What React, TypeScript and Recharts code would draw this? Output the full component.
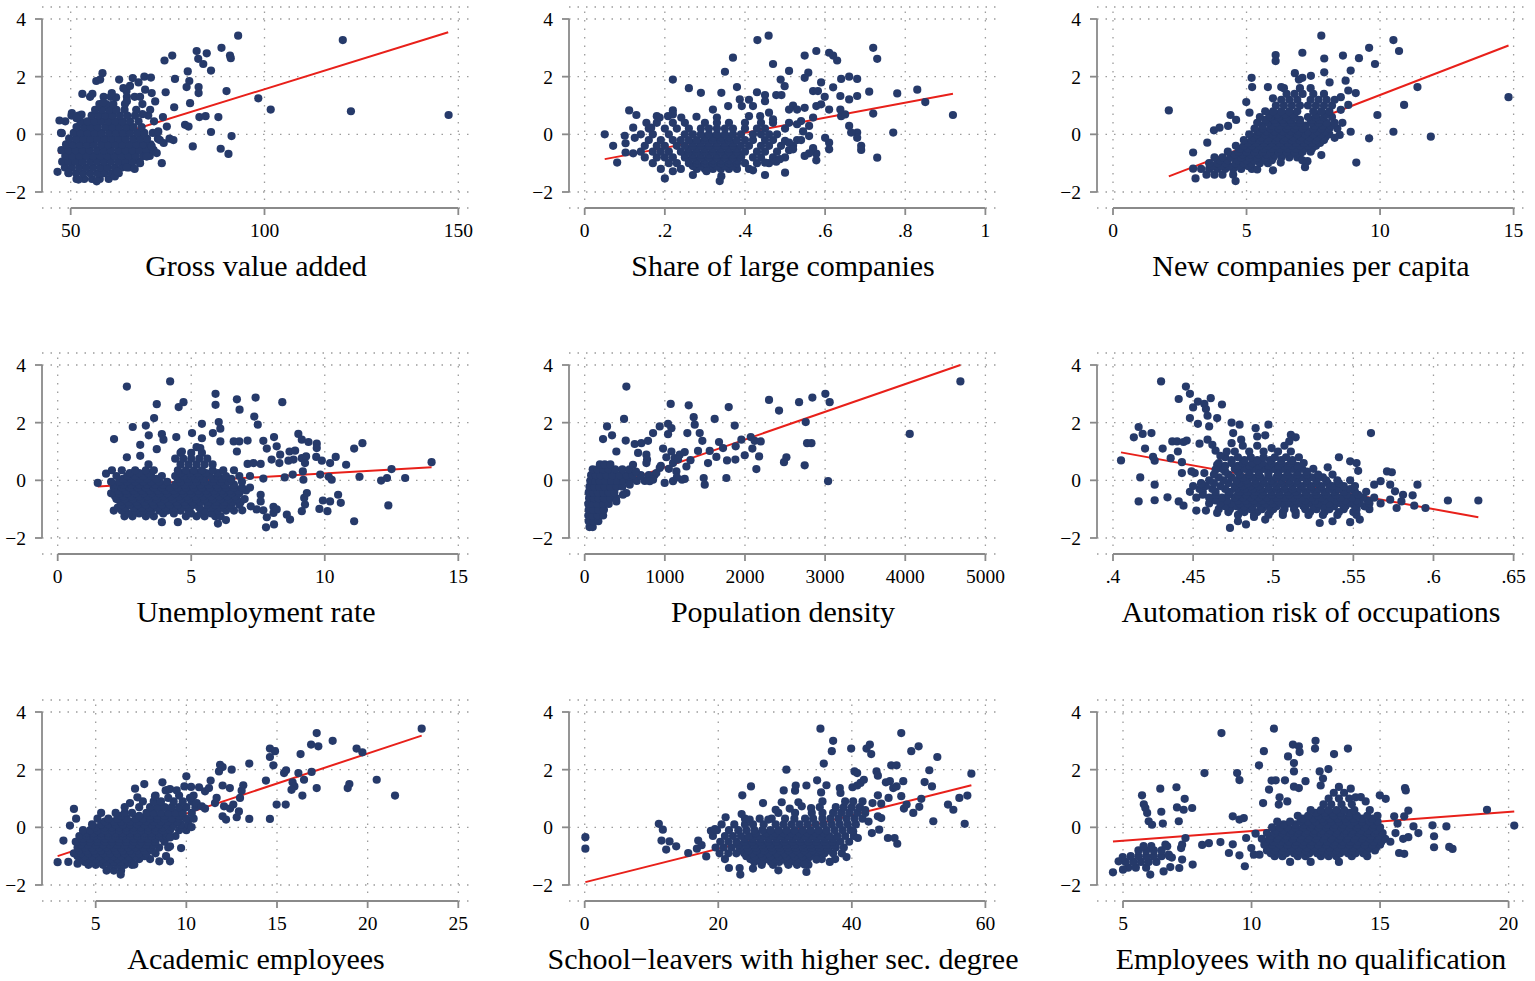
import { ScatterChart, Scatter, XAxis, YAxis, CartesianGrid, ReferenceLine } from "recharts";

type Pt = [number, number];
type Row = [number, number[]];

// ---- Gross value added ----
const gvaTicks = [50, 100, 150];
const gvaFit: Pt[] = [[46.8, -0.65], [147.4, 3.54]];
const gvaOuter: Pt[] = [
  [93.2, 3.42], [88.9, 3.0], [82.5, 2.89], [85.1, 2.81], [82.9, 2.62], [84.2, 2.44], [91.1, 2.73], [91.3, 2.64],
  [76.2, 2.73], [74.2, 2.56], [86.2, 2.21], [80.2, 2.18], [76.9, 1.92], [80.6, 1.85], [79.9, 1.64], [83.0, 1.64],
  [83.0, 1.43], [90.2, 1.5], [74.5, 1.46], [80.8, 1.08], [76.7, 0.94], [83.2, 0.6], [84.8, 0.63], [88.1, 0.6],
  [79.5, 0.33], [80.4, 0.27], [74.8, 0.27], [86.2, 0.08], [91.5, -0.06], [81.5, -0.42], [88.7, -0.5], [90.7, -0.68],
  [73.5, -1.0], [120.2, 3.27], [98.4, 1.25], [101.6, 0.86], [122.3, 0.8], [147.5, 0.67],
  [58.2, 2.12], [57.6, 1.9], [56.6, 1.85], [53.0, 1.4], [47.1, 0.48], [47.7, 0.04], [46.6, -1.3], [69.0, 2.0],
  [70.7, 1.97], [67.5, 1.8], [69.2, 1.55], [70.9, 1.43], [71.8, 1.14], [70.5, 0.85], [67.9, 1.3], [64.4, 1.5],
  [63.6, 1.6], [65.3, 1.68], [61.7, 1.28], [60.6, 1.43], [58.4, 1.1], [55.6, 1.4], [52.8, 0.68], [50.3, 0.74],
  [51.5, 0.56], [72.6, 0.1], [73.0, -0.2], [72.2, -0.65], [70.9, -0.42], [69.6, -0.77], [67.9, -1.0], [61.4, -1.46],
  [56.7, -1.63], [52.0, -1.57], [49.4, -1.34], [74.0, -0.3], [75.5, -0.15], [76.5, -0.2], [71.5, 0.45], [73.8, 0.6],
  [66.0, 1.95], [62.5, 1.9], [64.5, 1.15], [68.5, 0.7], [62.0, -1.3], [64.5, -1.15], [66.5, -1.2],
];
const gvaCore: Row[] = [
  [-1.55, [51.5, 53.5, 55.5, 57.5, 59.8]],
  [-1.35, [49.5, 51.4, 53.2, 55.0, 56.9, 58.7, 60.6, 62.4]],
  [-1.15, [48.5, 50.3, 52.2, 54.0, 55.8, 57.7, 59.5, 61.4, 63.2, 65.1]],
  [-0.95, [47.8, 49.5, 51.3, 53.1, 55.0, 56.8, 58.6, 60.4, 62.3, 64.1, 66.0, 67.8]],
  [-0.75, [48.6, 50.4, 52.2, 54.0, 55.9, 57.7, 59.5, 61.3, 63.2, 65.0, 66.8, 68.7, 70.4]],
  [-0.55, [47.6, 49.5, 51.3, 53.1, 54.9, 56.8, 58.6, 60.4, 62.3, 64.1, 65.9, 67.7, 69.6, 71.4]],
  [-0.35, [48.8, 50.6, 52.4, 54.2, 56.0, 57.9, 59.7, 61.5, 63.3, 65.2, 67.0, 68.8, 70.6]],
  [-0.15, [49.6, 51.5, 53.3, 55.1, 56.9, 58.8, 60.6, 62.4, 64.2, 66.1, 67.9, 69.7, 72.5]],
  [0.05, [47.5, 50.8, 52.6, 54.4, 56.2, 58.0, 59.9, 61.7, 63.5, 65.3, 67.2, 69.0, 71.2]],
  [0.25, [51.5, 53.4, 55.2, 57.0, 58.9, 60.7, 62.5, 64.4, 66.2, 68.3]],
  [0.45, [48.6, 52.5, 54.3, 56.1, 57.9, 59.8, 61.6, 63.4, 65.3, 67.5]],
  [0.65, [50.2, 52.0, 55.4, 57.2, 59.0, 60.8, 62.7, 64.6, 66.6, 70.0]],
  [0.85, [56.3, 58.1, 60.0, 61.8, 63.9, 66.9]],
  [1.05, [57.4, 59.2, 61.0, 64.0, 68.5]],
  [1.3, [55.0, 58.5, 60.3, 64.5, 66.5]],
];

// ---- Share of large companies ----
const shareTicks = [0, 0.2, 0.4, 0.6, 0.8, 1];
const shareFit: Pt[] = [[0.05, -0.86], [0.919, 1.41]];
const shareOuter: Pt[] = [
  [0.05, 0.0], [0.071, -0.4], [0.081, -0.98], [0.111, 0.83], [0.129, 0.67], [0.1, -0.05], [0.102, -0.31], [0.102, -0.63],
  [0.121, -0.66], [0.121, 0.23], [0.22, 1.9], [0.22, 0.83], [0.26, 1.6], [0.29, 1.44], [0.35, 2.17], [0.37, 2.66],
  [0.38, 1.64], [0.341, 1.44], [0.431, 3.27], [0.459, 3.42], [0.47, 2.44], [0.43, 1.46], [0.45, 1.36], [0.45, 1.15],
  [0.478, 1.36], [0.491, 1.36], [0.489, 1.9], [0.499, 1.67], [0.51, 2.2], [0.549, 2.73], [0.578, 2.89], [0.558, 2.14],
  [0.549, 1.96], [0.61, 2.83], [0.62, 2.73], [0.63, 2.56], [0.59, 1.8], [0.57, 1.5], [0.582, 1.5], [0.62, 1.63],
  [0.64, 1.92], [0.66, 2.0], [0.68, 1.92], [0.599, 1.3], [0.638, 1.33], [0.66, 1.21], [0.68, 1.33], [0.71, 1.48],
  [0.72, 3.0], [0.73, 2.62], [0.78, 1.42], [0.83, 1.55], [0.85, 1.12], [0.919, 0.67], [0.72, 0.72], [0.77, 0.06],
  [0.73, -0.81], [0.69, -0.4], [0.69, -0.54], [0.68, 0.06], [0.68, -0.12], [0.66, 0.29], [0.665, 0.06], [0.64, 0.63],
  [0.65, 0.69], [0.638, 0.86], [0.61, -0.29], [0.61, -0.52], [0.6, -0.12], [0.578, -0.9], [0.578, -0.67], [0.57, -0.48],
  [0.56, -0.66], [0.549, -0.75], [0.56, -0.06], [0.56, 0.29], [0.549, 0.92], [0.54, 0.46], [0.57, 0.58], [0.578, 0.98],
  [0.59, 1.04], [0.61, 0.86], [0.52, 1.0], [0.53, 0.86], [0.51, 0.86], [0.51, 0.4], [0.53, 0.35], [0.5, -0.23],
  [0.51, -0.29], [0.5, -1.33], [0.51, -0.55], [0.52, -0.52], [0.478, -0.95], [0.487, -0.86], [0.45, -1.41], [0.42, -1.25],
  [0.45, -0.98], [0.54, -0.2], [0.545, 0.1], [0.47, 0.52], [0.46, 0.75], [0.438, 0.63], [0.41, 0.63], [0.42, 0.98],
  [0.41, 1.2], [0.387, 1.21], [0.392, 0.98], [0.358, 0.98], [0.32, 0.86], [0.33, 0.58], [0.279, 0.61], [0.241, 0.58],
  [0.22, 0.69], [0.208, 0.63], [0.18, 0.63], [0.187, 0.58], [0.154, 0.4], [0.166, 0.23], [0.125, -0.12], [0.337, -1.62],
  [0.341, -1.45], [0.2, -1.53], [0.22, -1.28], [0.27, -1.41], [0.304, -1.28],
];
const shareCore: Row[] = [
  [-1.2, [0.19, 0.24, 0.28, 0.3, 0.32, 0.34, 0.36, 0.38, 0.41]],
  [-1.1, [0.27, 0.29, 0.31, 0.33, 0.35, 0.37]],
  [-1.0, [0.17, 0.21, 0.23, 0.26, 0.28, 0.3, 0.32, 0.34, 0.36, 0.38, 0.4, 0.43, 0.46]],
  [-0.9, [0.26, 0.28, 0.3, 0.32, 0.34, 0.36, 0.38]],
  [-0.8, [0.15, 0.18, 0.2, 0.22, 0.25, 0.27, 0.29, 0.31, 0.33, 0.35, 0.37, 0.39, 0.42, 0.44, 0.47, 0.5]],
  [-0.7, [0.25, 0.27, 0.29, 0.31, 0.33, 0.35, 0.37, 0.39]],
  [-0.6, [0.14, 0.17, 0.19, 0.21, 0.24, 0.26, 0.28, 0.3, 0.32, 0.34, 0.36, 0.38, 0.4, 0.43, 0.45, 0.48]],
  [-0.5, [0.26, 0.28, 0.3, 0.32, 0.34, 0.36, 0.38]],
  [-0.4, [0.15, 0.18, 0.2, 0.23, 0.25, 0.27, 0.29, 0.31, 0.33, 0.35, 0.37, 0.39, 0.41, 0.44, 0.46, 0.49, 0.52]],
  [-0.3, [0.27, 0.29, 0.31, 0.33, 0.35, 0.37]],
  [-0.2, [0.16, 0.19, 0.22, 0.24, 0.26, 0.28, 0.3, 0.32, 0.34, 0.36, 0.38, 0.4, 0.42, 0.45, 0.47, 0.53]],
  [-0.1, [0.3, 0.32, 0.34, 0.36]],
  [0.0, [0.14, 0.17, 0.21, 0.25, 0.27, 0.29, 0.31, 0.33, 0.35, 0.37, 0.39, 0.42, 0.44, 0.46, 0.48]],
  [0.2, [0.16, 0.2, 0.23, 0.26, 0.29, 0.31, 0.33, 0.35, 0.37, 0.4, 0.43, 0.45, 0.5]],
  [0.4, [0.18, 0.22, 0.25, 0.3, 0.33, 0.36, 0.4, 0.44, 0.47]],
];

// ---- New companies per capita ----
const newCoTicks = [0, 5, 10, 15];
const newCoFit: Pt[] = [[2.09, -1.46], [14.81, 3.08]];
const newCoOuter: Pt[] = [
  [2.09, 0.83], [3.0, -0.63], [3.0, -1.19], [3.09, -1.53], [3.53, -0.29], [3.78, 0.14], [3.99, 0.23], [4.31, 0.29],
  [4.4, 0.67], [4.61, 0.5], [4.59, -1.62], [4.99, 1.12], [5.19, 1.96], [5.21, 1.64], [5.11, 0.75], [5.8, 1.64],
  [6.09, 2.75], [6.09, 2.54], [5.99, 1.25], [6.3, 1.64], [7.09, 2.83], [6.81, 2.12], [6.96, 1.9], [7.09, 1.96],
  [7.41, 2.03], [7.8, 3.42], [7.91, 2.63], [7.91, 2.15], [8.11, 1.8], [8.61, 2.73], [8.9, 2.21], [8.71, 1.86],
  [9.21, 2.64], [9.59, 3.0], [9.81, 2.44], [8.81, 1.52], [9.09, 1.43], [8.53, 1.29], [8.81, 1.02], [8.53, 0.85],
  [8.59, 0.4], [8.9, 0.09], [8.49, -0.02], [8.3, -0.12], [9.11, -0.98], [9.59, -0.14], [9.9, 0.67], [10.5, 0.09],
  [10.5, 3.27], [10.71, 2.89], [10.9, 1.02], [11.4, 1.64], [11.9, -0.08], [14.81, 1.29], [7.8, -0.72], [7.09, -0.9],
  [7.28, -0.93], [7.19, -1.14], [5.99, -1.25], [5.4, -1.22], [6.28, -0.98],
];
const newCoCore: Row[] = [
  [-1.4, [3.5, 3.8, 4.1, 4.5]],
  [-1.2, [3.3, 3.6, 3.9, 4.2, 4.5, 4.8, 5.2]],
  [-1.1, [3.75, 4.05, 4.35, 4.7, 5.05]],
  [-1.0, [3.6, 3.9, 4.2, 4.6, 4.9, 5.2, 5.5, 5.8]],
  [-0.9, [4.0, 4.3, 4.65, 5.0, 5.3, 5.6, 5.95]],
  [-0.8, [3.8, 4.1, 4.4, 4.8, 5.1, 5.4, 5.7, 6.0, 6.3, 6.6, 6.9]],
  [-0.7, [4.55, 4.85, 5.15, 5.45, 5.75, 6.05, 6.35, 6.65, 7.0]],
  [-0.6, [4.3, 4.7, 5.0, 5.3, 5.6, 5.9, 6.2, 6.5, 6.8, 7.1, 7.4]],
  [-0.5, [4.75, 5.05, 5.35, 5.65, 5.95, 6.25, 6.55, 6.85, 7.15, 7.45]],
  [-0.4, [4.6, 4.9, 5.2, 5.5, 5.8, 6.1, 6.4, 6.7, 7.0, 7.3, 7.6]],
  [-0.3, [5.05, 5.35, 5.65, 5.95, 6.25, 6.55, 6.85, 7.15, 7.45, 7.75]],
  [-0.2, [4.9, 5.2, 5.5, 5.8, 6.1, 6.4, 6.7, 7.0, 7.3, 7.6, 7.9]],
  [-0.1, [5.25, 5.55, 5.85, 6.15, 6.45, 6.75, 7.05, 7.35, 7.65, 7.95]],
  [0.0, [5.1, 5.4, 5.7, 6.0, 6.3, 6.6, 6.9, 7.2, 7.5, 7.8, 8.1]],
  [0.1, [5.45, 5.75, 6.05, 6.35, 6.65, 6.95, 7.3, 7.65, 7.95]],
  [0.2, [5.3, 5.6, 5.9, 6.2, 6.5, 6.8, 7.1, 7.5, 7.8, 8.1, 8.4]],
  [0.3, [5.6, 5.95, 6.25, 6.55, 6.85, 7.2, 7.55, 7.85, 8.15]],
  [0.4, [5.4, 5.8, 6.1, 6.4, 6.7, 7.0, 7.4, 7.7, 8.0, 8.3]],
  [0.5, [5.7, 6.05, 6.35, 6.65, 7.0, 7.45, 7.75]],
  [0.6, [5.5, 5.9, 6.2, 6.5, 6.8, 7.3, 7.6, 7.9, 8.2]],
  [0.7, [5.85, 6.15, 6.45, 6.75, 7.6, 7.95]],
  [0.8, [5.7, 6.0, 6.3, 6.6, 6.9, 7.5, 7.8, 8.1]],
  [1.0, [6.1, 6.4, 6.7, 7.0, 7.3, 7.6, 7.9, 8.2]],
  [1.2, [6.3, 6.6, 6.9, 7.4, 7.7, 8.0, 8.3]],
  [1.4, [6.5, 6.8, 7.1, 7.5, 7.9]],
  [1.6, [6.4, 7.0, 7.4]],
];

// ---- Unemployment rate ----
const unempTicks = [0, 5, 10, 15];
const unempFit: Pt[] = [[1.5, -0.21], [14.0, 0.45]];
const unempOuter: Pt[] = [
  [1.5, -0.09], [1.81, 0.23], [2.03, 0.35], [2.11, 1.43], [2.59, 3.25], [2.81, 1.85], [2.59, 0.8], [3.09, 1.23],
  [3.09, 0.85], [3.3, 1.9], [3.41, 1.56], [3.61, 2.16], [3.71, 2.64], [3.71, 1.08], [3.9, 1.6], [3.96, 1.41],
  [4.21, 3.43], [4.53, 2.54], [4.71, 2.71], [4.44, 1.5], [4.65, 1.0], [5.03, 1.64], [5.4, 1.96], [5.4, 1.46],
  [5.34, 1.12], [5.91, 3.0], [5.91, 2.62], [5.81, 1.64], [6.03, 2.02], [6.09, 1.79], [6.09, 1.35], [6.71, 2.81],
  [6.81, 2.45], [6.71, 1.0], [6.59, 1.35], [6.8, 1.35], [7.11, 1.38], [7.41, 2.87], [7.36, 2.21], [7.49, 1.93],
  [7.11, 0.57], [7.33, 0.6], [7.6, 0.57], [7.7, 1.37], [7.83, 1.1], [8.1, 1.5], [8.2, 1.18], [8.33, 0.89],
  [8.41, 2.71], [8.01, 0.72], [8.3, 0.6], [8.68, 1.0], [8.89, 1.03], [8.64, 0.68], [8.83, 0.72], [9.01, 1.61],
  [9.14, 1.41], [9.39, 1.33], [9.7, 1.27], [9.7, 1.12], [9.14, 0.77], [9.3, 0.83], [9.68, 0.81], [9.89, 0.68],
  [9.26, 0.6], [9.18, 0.31], [9.2, 0.02], [9.83, 0.2], [10.2, 0.6], [10.41, 0.81], [10.8, 0.54], [10.15, 0.12],
  [10.26, 0.02], [11.1, 1.1], [11.41, 1.29], [11.3, 0.12], [12.11, -0.01], [12.33, 0.08], [12.5, 0.39], [13.01, 0.08],
  [14.0, 0.63], [12.38, -0.87], [11.1, -1.42], [10.5, -0.5], [10.6, -0.78], [10.2, -0.73], [9.93, -0.7], [10.1, -1.07],
  [9.8, -0.99], [9.26, -0.84], [9.23, -0.61], [9.33, -0.44], [9.14, -1.07], [8.7, -1.36], [8.58, -1.19], [8.08, -0.92],
  [8.08, -1.13], [8.2, -1.01], [7.7, -1.04], [7.8, -1.63], [8.1, -1.53], [7.83, -1.28], [7.6, -0.5], [7.6, -0.73],
  [7.45, -1.01], [7.23, -0.9], [6.91, -1.04], [7.7, 0.06], [8.5, 0.1], [8.8, 0.2], [3.9, -1.45], [4.5, -1.45],
  [6.0, -1.5], [6.3, -1.38],
];
const unempCore: Row[] = [
  [-1.25, [2.5, 2.8, 3.3, 3.6, 4.8, 5.2, 5.5, 5.9, 6.1]],
  [-1.15, [2.65, 3.05, 3.45, 3.95, 4.35, 5.0, 5.35, 5.75]],
  [-1.05, [2.1, 2.4, 2.9, 3.2, 3.5, 3.8, 4.1, 4.6, 4.9, 5.5, 6.0, 6.3, 6.6]],
  [-0.95, [2.25, 2.55, 2.85, 3.15, 3.45, 3.75, 4.05, 4.35, 4.65, 4.95, 5.3, 5.75, 6.1, 6.45]],
  [-0.85, [2.4, 2.7, 3.0, 3.3, 3.6, 3.9, 4.2, 4.5, 4.8, 5.1, 5.6, 5.9, 6.2, 6.5, 6.8]],
  [-0.75, [2.35, 2.65, 2.95, 3.25, 3.55, 3.85, 4.15, 4.45, 4.75, 5.05, 5.35, 5.65, 5.95, 6.25, 6.55, 6.85]],
  [-0.65, [2.2, 2.5, 2.8, 3.1, 3.4, 3.7, 4.0, 4.3, 4.6, 4.9, 5.2, 5.5, 5.8, 6.1, 6.4, 6.7, 7.0]],
  [-0.55, [2.15, 2.45, 2.75, 3.05, 3.35, 3.65, 3.95, 4.25, 4.55, 4.85, 5.15, 5.45, 5.75, 6.05, 6.35, 6.65]],
  [-0.45, [2.0, 2.3, 2.6, 2.9, 3.2, 3.5, 3.8, 4.1, 4.4, 4.7, 5.0, 5.3, 5.6, 5.9, 6.2, 6.5, 6.8]],
  [-0.35, [2.25, 2.55, 2.85, 3.15, 3.45, 3.75, 4.05, 4.35, 4.65, 4.95, 5.25, 5.55, 5.85, 6.15, 6.45, 6.75, 7.05]],
  [-0.25, [2.1, 2.4, 2.7, 3.0, 3.3, 3.6, 3.9, 4.2, 4.5, 4.8, 5.1, 5.4, 5.7, 6.0, 6.3, 6.6, 6.9, 7.2]],
  [-0.15, [2.15, 2.45, 2.75, 3.05, 3.35, 3.65, 3.95, 4.4, 4.75, 5.05, 5.35, 5.65, 5.95, 6.25, 6.6]],
  [-0.05, [2.0, 2.3, 2.6, 2.9, 3.2, 3.5, 3.8, 4.1, 4.6, 4.9, 5.2, 5.5, 5.8, 6.1, 6.4, 6.9]],
  [0.05, [2.45, 2.75, 3.05, 3.35, 3.7, 4.5, 4.85, 5.15, 5.45, 5.85, 6.15, 6.5]],
  [0.15, [2.2, 2.6, 2.9, 3.2, 3.5, 3.9, 4.4, 4.7, 5.0, 5.3, 5.7, 6.0, 6.3, 6.8, 7.2]],
  [0.25, [2.7, 3.05, 3.4, 4.6, 4.95, 5.25, 5.55, 6.0]],
  [0.35, [2.4, 2.9, 3.3, 3.6, 4.5, 4.8, 5.1, 5.4, 5.8, 6.2, 6.6]],
  [0.55, [3.4, 4.6, 4.9, 5.2, 5.5, 5.8]],
  [0.75, [4.4, 4.7, 5.0, 5.3, 5.6]],
  [0.95, [4.6, 5.0, 5.4]],
  [1.15, [5.2]],
];

// ---- Population density ----
const densityTicks = [0, 1000, 2000, 3000, 4000, 5000];
const densityFit: Pt[] = [[40, -0.47], [4688, 4.0]];
const densityOuter: Pt[] = [
  [520, 3.25], [491, 2.13], [279, 1.87], [229, 1.43], [341, 1.56], [512, 1.38], [395, 1.0], [624, 1.26],
  [707, 1.29], [790, 1.37], [666, 0.95], [770, 0.89], [853, 1.64], [778, 0.72], [770, 0.6], [936, 1.87],
  [1040, 1.96], [1040, 1.6], [1073, 2.65], [1082, 1.81], [978, 1.1], [1019, 0.8], [1082, 1.0], [1123, 0.77],
  [936, 0.43], [998, -0.09], [1102, -0.03], [1144, 0.31], [1102, 0.6], [1186, 0.89], [1248, 0.98], [1165, 0.72],
  [1281, 1.64], [1298, 2.6], [1215, 0.02], [1248, 0.05], [1269, 0.48], [1360, 2.19], [1373, 1.93], [1435, 1.64],
  [1468, 1.37], [1414, 1.02], [1485, 0.08], [1498, -0.15], [1539, 0.6], [1560, 1.02], [1622, 2.13], [1676, 1.33],
  [1643, 0.81], [1726, 1.12], [1768, 0.08], [1797, 2.54], [1776, 0.69], [1872, 1.9], [1880, 0.72], [1884, 1.18],
  [1955, 1.41], [1997, 0.87], [2072, 1.5], [2121, 1.37], [2092, 1.1], [2196, 1.35], [2176, 0.83], [2142, 0.39],
  [2300, 2.79], [2425, 2.42], [2487, 0.63], [2517, 0.8], [2675, 2.71], [2745, 0.52], [2758, 2.02], [2775, 1.29],
  [2829, 1.29], [2841, 2.87], [3003, 3.0], [3057, 2.71], [3037, -0.03], [4056, 1.61], [4688, 3.43],
  [894, 0.25], [853, 0.02], [811, -0.03], [603, 0.54], [562, -0.15], [520, -0.44], [478, -0.5], [395, -0.73],
  [700, 0.15], [640, 0.3], [950, 0.5], [1050, 0.4], [1150, 0.1], [1320, 0.7],
];
const densityCore: Row[] = [
  [-1.62, [60, 100]],
  [-1.42, [50, 110, 170]],
  [-1.22, [45, 95, 160, 230]],
  [-1.02, [50, 110, 170, 240]],
  [-0.82, [45, 100, 160, 230, 300]],
  [-0.62, [55, 115, 175, 240, 320, 390]],
  [-0.42, [50, 105, 165, 230, 300, 370]],
  [-0.22, [60, 120, 185, 250, 320, 400, 470]],
  [-0.02, [70, 130, 190, 260, 330, 410, 480, 560, 650, 750]],
  [0.18, [80, 140, 200, 270, 350, 430, 520, 600, 700, 800, 870]],
  [0.38, [100, 160, 230, 300, 380, 470, 560]],
  [0.55, [190, 250, 320]],
];

// ---- Automation risk of occupations ----
const autoTicks = [0.4, 0.45, 0.5, 0.55, 0.6, 0.65];
const autoFit: Pt[] = [[0.405, 0.97], [0.628, -1.28]];
const autoOuter: Pt[] = [
  [0.405, 0.69], [0.413, 1.49], [0.416, 1.85], [0.4185, 1.61], [0.424, 1.64], [0.42, 1.1], [0.417, 0.1], [0.416, -0.73],
  [0.425, 0.81], [0.426, 0.68], [0.426, -0.15], [0.426, -0.69], [0.43, 3.43], [0.431, 1.1], [0.434, -0.59], [0.436, 0.77],
  [0.437, 1.35], [0.44, 1.35], [0.441, 2.82], [0.4405, 1.0], [0.443, 0.63], [0.443, 0.25], [0.441, -0.73], [0.444, -0.88],
  [0.4455, 3.25], [0.444, 1.33], [0.446, 1.38], [0.448, 3.0], [0.448, 2.16], [0.45, 2.53], [0.453, 2.73], [0.453, 1.96],
  [0.454, 1.27], [0.455, -0.13], [0.457, 2.65], [0.458, 2.47], [0.459, 2.24], [0.461, 2.85], [0.46, 1.87], [0.465, 2.16],
  [0.468, 2.63], [0.459, 1.41], [0.462, 1.23], [0.464, 1.03], [0.467, 0.85], [0.465, 0.54], [0.464, 0.37], [0.457, 0.25],
  [0.451, 0.25], [0.449, 0.31], [0.452, -1.05], [0.458, -1.05], [0.465, -1.13], [0.474, 2.0], [0.479, 1.93], [0.475, 1.64],
  [0.48, 1.41], [0.474, 1.29], [0.471, 1.0], [0.473, -1.65], [0.478, -1.42], [0.483, -1.53], [0.489, 1.81], [0.49, 1.52],
  [0.497, 1.93], [0.495, 1.56], [0.495, -1.36], [0.488, -1.27], [0.511, 1.58], [0.514, 1.49], [0.51, 1.35], [0.499, 1.12],
  [0.541, 0.8], [0.534, 0.45], [0.548, 0.66], [0.552, 0.6], [0.553, 0.33], [0.561, 1.64], [0.529, -1.48], [0.537, -1.42],
  [0.548, -1.45], [0.554, -1.36], [0.563, -0.15], [0.567, -0.03], [0.571, 0.31], [0.574, 0.28], [0.573, -0.15], [0.576, -0.38],
  [0.573, -0.67], [0.577, -0.96], [0.58, -0.73], [0.581, -0.5], [0.587, -0.52], [0.588, -0.88], [0.59, -0.15], [0.595, -0.96],
  [0.609, -0.7], [0.628, -0.7],
];
const autoCore: Row[] = [
  [-1.2, [0.478, 0.488, 0.497, 0.506, 0.514, 0.522, 0.531, 0.54, 0.552]],
  [-1.1, [0.472, 0.482, 0.49, 0.498, 0.506, 0.514, 0.523, 0.532, 0.541, 0.55]],
  [-1.0, [0.466, 0.473, 0.48, 0.486, 0.493, 0.5, 0.507, 0.513, 0.52, 0.527, 0.535, 0.544, 0.552, 0.56]],
  [-0.9, [0.47, 0.477, 0.482, 0.487, 0.492, 0.497, 0.502, 0.507, 0.513, 0.519, 0.525, 0.531, 0.538, 0.545, 0.551, 0.557]],
  [-0.8, [0.46, 0.467, 0.474, 0.479, 0.484, 0.49, 0.495, 0.5, 0.505, 0.51, 0.516, 0.522, 0.528, 0.535, 0.542, 0.548, 0.554, 0.56, 0.567]],
  [-0.7, [0.464, 0.471, 0.478, 0.483, 0.488, 0.493, 0.498, 0.503, 0.509, 0.514, 0.52, 0.526, 0.532, 0.539, 0.545, 0.552, 0.559]],
  [-0.6, [0.452, 0.46, 0.468, 0.476, 0.481, 0.486, 0.491, 0.496, 0.502, 0.507, 0.512, 0.518, 0.524, 0.53, 0.536, 0.542, 0.549, 0.556, 0.563]],
  [-0.5, [0.456, 0.464, 0.472, 0.478, 0.483, 0.488, 0.493, 0.499, 0.504, 0.51, 0.515, 0.521, 0.527, 0.533, 0.539, 0.546, 0.553]],
  [-0.4, [0.448, 0.456, 0.464, 0.473, 0.479, 0.484, 0.489, 0.494, 0.499, 0.504, 0.509, 0.514, 0.52, 0.526, 0.532, 0.538, 0.544, 0.551, 0.558]],
  [-0.3, [0.454, 0.462, 0.47, 0.477, 0.482, 0.487, 0.492, 0.497, 0.502, 0.507, 0.512, 0.517, 0.523, 0.529, 0.535, 0.541, 0.548]],
  [-0.2, [0.45, 0.458, 0.467, 0.476, 0.481, 0.486, 0.491, 0.497, 0.502, 0.507, 0.512, 0.518, 0.524, 0.53, 0.537, 0.544, 0.551]],
  [-0.1, [0.455, 0.463, 0.472, 0.479, 0.484, 0.489, 0.494, 0.5, 0.505, 0.51, 0.515, 0.521, 0.527, 0.534, 0.541]],
  [0.0, [0.46, 0.469, 0.477, 0.483, 0.489, 0.494, 0.499, 0.505, 0.51, 0.515, 0.521, 0.527, 0.533, 0.54, 0.548]],
  [0.1, [0.466, 0.474, 0.481, 0.487, 0.492, 0.497, 0.502, 0.507, 0.512, 0.518, 0.524, 0.531]],
  [0.2, [0.463, 0.472, 0.479, 0.485, 0.491, 0.497, 0.503, 0.509, 0.515, 0.521, 0.528, 0.537]],
  [0.3, [0.47, 0.478, 0.485, 0.491, 0.497, 0.503, 0.509, 0.515, 0.521]],
  [0.4, [0.468, 0.476, 0.482, 0.488, 0.494, 0.5, 0.506, 0.512, 0.518, 0.525]],
  [0.5, [0.47, 0.478, 0.485, 0.491, 0.497, 0.503, 0.509, 0.515]],
  [0.6, [0.466, 0.474, 0.481, 0.487, 0.493, 0.499, 0.505, 0.511, 0.519]],
  [0.7, [0.474, 0.482, 0.49, 0.498, 0.505, 0.512]],
  [0.8, [0.47, 0.478, 0.486, 0.494, 0.501, 0.508, 0.516]],
  [1.0, [0.476, 0.485, 0.494, 0.503, 0.511]],
  [1.2, [0.481, 0.49, 0.507]],
];

// ---- Academic employees ----
const academicTicks = [5, 10, 15, 20, 25];
const academicFit: Pt[] = [[2.9, -1.0], [22.98, 3.18]];
const academicOuter: Pt[] = [
  [2.9, -1.21], [3.22, -0.46], [3.49, -1.2], [3.58, 0.06], [3.8, 0.64], [3.92, 0.3], [4.0, -1.26], [6.38, -1.64],
  [7.13, -1.29], [7.17, 1.34], [7.68, 1.5], [7.3, 1.04], [6.89, 0.84], [8.68, 1.56], [8.86, 1.28], [9.0, 1.02],
  [9.1, 1.33], [9.47, 1.28], [8.27, 1.08], [8.51, -1.18], [9.1, -1.18], [8.88, -1.0], [9.1, -0.66], [9.71, -0.72],
  [9.89, 1.42], [10.0, 1.77], [9.1, -0.35], [10.26, 1.4], [10.7, 1.39], [10.29, 0.01], [10.2, 1.02], [10.57, 0.84],
  [10.85, 0.73], [11.03, 1.25], [11.25, 1.36], [11.34, 1.62], [11.03, 0.65], [11.58, 0.84], [11.67, 1.02], [11.86, 2.17],
  [12.0, 2.09], [11.8, 1.94], [12.0, 1.45], [12.0, 0.38], [12.19, 0.27], [12.08, 0.73], [12.4, 1.36], [12.5, 2.0],
  [12.41, 0.65], [12.59, 0.79], [12.78, 0.35], [12.9, 0.55], [12.96, 1.02], [13.05, 1.27], [13.14, 1.46], [13.47, 2.21],
  [13.47, 0.29], [14.39, 1.62], [14.61, 2.73], [14.61, 2.44], [14.89, 2.64], [14.8, 2.15], [14.61, 0.29], [14.98, 0.79],
  [15.48, 0.79], [15.39, 1.88], [15.5, 1.98], [15.86, 1.56], [15.96, 1.42], [15.8, 1.3], [16.18, 1.88], [16.3, 2.54],
  [16.49, 1.65], [16.4, 1.1], [16.88, 2.87], [16.91, 1.92], [17.19, 3.27], [17.28, 2.81], [17.19, 1.36], [18.07, 3.0],
  [18.9, 1.36], [18.99, 1.5], [19.39, 2.73], [19.71, 2.6], [20.5, 1.65], [21.51, 1.1], [22.98, 3.42],
];
const academicCore: Row[] = [
  [-1.5, [5.6, 6.0, 6.4]],
  [-1.3, [4.6, 5.0, 5.4, 5.8, 6.2, 6.6, 7.0]],
  [-1.2, [4.4, 4.8, 5.2, 5.6, 6.0, 6.4, 6.8]],
  [-1.1, [4.2, 4.6, 5.0, 5.4, 5.8, 6.2, 6.6, 7.0, 7.4, 8.0]],
  [-1.0, [4.0, 4.4, 4.8, 5.2, 5.6, 6.0, 6.4, 6.8, 7.2, 7.7]],
  [-0.9, [3.8, 4.2, 4.6, 5.0, 5.4, 5.8, 6.2, 6.6, 7.0, 7.4, 7.8, 8.3]],
  [-0.8, [4.1, 4.5, 4.9, 5.3, 5.7, 6.1, 6.5, 6.9, 7.3, 7.7, 8.1]],
  [-0.7, [4.0, 4.4, 4.8, 5.2, 5.6, 6.0, 6.4, 6.8, 7.2, 7.6, 8.0, 8.5, 9.0]],
  [-0.6, [4.2, 4.6, 5.0, 5.4, 5.8, 6.2, 6.6, 7.0, 7.4, 7.8, 8.2]],
  [-0.5, [3.9, 4.3, 4.7, 5.1, 5.5, 5.9, 6.3, 6.7, 7.1, 7.5, 7.9, 8.3, 8.8]],
  [-0.4, [4.3, 4.7, 5.1, 5.5, 5.9, 6.3, 6.7, 7.1, 7.5, 7.9, 8.3, 8.7]],
  [-0.3, [4.1, 4.5, 4.9, 5.3, 5.7, 6.1, 6.5, 6.9, 7.3, 7.7, 8.1, 8.5, 8.9, 9.4]],
  [-0.2, [4.5, 4.9, 5.3, 5.7, 6.1, 6.5, 6.9, 7.3, 7.7, 8.1, 8.5, 8.9]],
  [-0.1, [4.3, 4.7, 5.1, 5.5, 5.9, 6.3, 6.7, 7.1, 7.5, 7.9, 8.3, 8.7, 9.1, 9.6, 10.0]],
  [0.0, [5.0, 5.5, 5.9, 6.3, 6.7, 7.1, 7.5, 7.9, 8.3, 8.7, 9.2, 9.8]],
  [0.1, [4.8, 5.3, 5.7, 6.1, 6.5, 6.9, 7.3, 7.7, 8.1, 8.5, 8.9, 9.3, 9.7, 10.1]],
  [0.2, [5.5, 6.0, 6.4, 6.9, 7.4, 7.8, 8.2, 8.6, 9.0, 9.5]],
  [0.3, [5.1, 5.7, 6.2, 6.7, 7.2, 7.6, 8.0, 8.4, 8.8, 9.2, 9.6, 10.0, 10.4]],
  [0.4, [6.4, 7.4, 8.0, 8.4, 8.8, 9.6]],
  [0.5, [5.3, 6.1, 6.6, 7.0, 7.8, 8.2, 8.6, 9.0, 9.4, 9.8, 10.3]],
  [0.7, [6.6, 7.4, 8.0, 8.4, 8.8, 9.2, 9.6, 10.0, 10.5]],
  [0.9, [7.6, 8.2, 8.6, 9.3, 9.8, 10.3]],
  [1.1, [8.3, 9.6, 10.4]],
  [1.3, [9.0]],
];

// ---- School-leavers with higher secondary degree ----
const schoolTicks = [0, 20, 40, 60];
const schoolFit: Pt[] = [[0.1, -1.9], [57.9, 1.46]];
const schoolOuter: Pt[] = [
  [0.1, -0.34], [0.1, -0.74], [11.1, 0.12], [11.7, -0.08], [11.5, -0.46], [12.2, -0.77], [12.7, -0.49], [13.7, -0.66],
  [15.5, -0.89], [16.8, -0.74], [17.0, -0.46], [17.5, -0.62], [18.2, -1.01], [18.9, -0.12], [19.5, -0.06], [21.1, 0.35],
  [21.6, -1.41], [23.3, -1.64], [23.2, -1.41], [23.5, 0.46], [23.6, 1.11], [24.9, 1.42], [24.7, 0.27], [25.2, -1.43],
  [26.7, 0.84], [27.5, 0.27], [28.6, 0.61], [29.0, -1.49], [29.5, 0.87], [29.8, 1.28], [30.2, 2.0], [30.7, 0.65],
  [31.5, 1.27], [31.6, 1.45], [32.0, 0.87], [32.5, 0.73], [33.2, 1.45], [33.2, -1.55], [33.9, 0.67], [34.8, 1.63],
  [35.3, 3.42], [35.4, 1.21], [35.8, 2.21], [36.2, 1.46], [37.0, 2.64], [37.2, 3.0], [38.2, 1.36], [38.3, 1.19],
  [39.9, 2.73], [40.4, 1.94], [40.8, 1.88], [40.1, 1.39], [40.8, 1.45], [41.3, 1.54], [41.8, 1.65], [42.2, 2.73],
  [42.7, 2.87], [42.9, 2.54], [43.1, 0.84], [43.7, 1.94], [43.9, 1.79], [43.9, 1.11], [43.9, 0.38], [44.4, 0.32],
  [44.1, -0.08], [44.4, 0.82], [45.1, 1.56], [45.5, 1.02], [45.4, -0.37], [45.7, 1.6], [45.9, 2.15], [46.2, 1.36],
  [46.4, -0.37], [46.7, 2.15], [46.8, -0.57], [46.7, 1.42], [47.4, 3.27], [47.4, 1.08], [47.7, 1.6], [47.8, 0.65],
  [48.2, 0.79], [48.9, 2.64], [49.2, 0.5], [50.0, 2.81], [50.1, 0.71], [50.4, 0.99], [50.9, 1.57], [51.6, 1.98],
  [52.0, 1.42], [52.2, 0.21], [52.8, 2.44], [54.4, 0.79], [55.2, 0.61], [56.1, 1.02], [56.9, 0.12], [57.3, 1.1],
  [57.9, 1.86], [39.2, -1.03], [36.7, -1.2], [34.7, -1.12], [32.9, -1.29], [40.9, -0.37], [40.2, -0.14], [42.5, 0.2],
  [43.0, -0.2], [42.0, 0.6],
];
const schoolCore: Row[] = [
  [-1.3, [26.5, 28.2, 30.5, 31.8, 33.5]],
  [-1.2, [25.4, 26.6, 27.9, 29.1, 30.3, 31.5, 32.7]],
  [-1.1, [21.0, 24.8, 26.0, 27.3, 28.5, 29.7, 30.9, 32.1, 33.4, 35.5, 37.5]],
  [-1.0, [24.2, 25.4, 26.6, 27.8, 29.0, 30.2, 31.4, 32.6, 33.8, 35.0]],
  [-0.9, [20.2, 21.5, 22.7, 23.9, 25.1, 26.3, 27.5, 28.7, 29.9, 31.1, 32.3, 33.5, 34.7, 35.9, 37.2, 38.5]],
  [-0.8, [23.3, 24.5, 25.7, 26.9, 28.1, 29.3, 30.5, 31.7, 32.9, 34.1, 35.3, 36.5]],
  [-0.7, [19.6, 20.8, 22.0, 23.2, 24.4, 25.6, 26.8, 28.0, 29.2, 30.4, 31.6, 32.8, 34.0, 35.2, 36.4, 37.6, 38.8]],
  [-0.6, [23.0, 24.2, 25.4, 26.6, 27.8, 29.0, 30.2, 31.4, 32.6, 33.8, 35.0, 36.2, 37.4]],
  [-0.5, [20.3, 21.5, 22.7, 23.9, 25.1, 26.3, 27.5, 28.7, 29.9, 31.1, 32.3, 33.5, 34.7, 35.9, 37.1, 38.3, 39.6]],
  [-0.4, [24.0, 25.2, 26.4, 27.6, 28.8, 30.0, 31.2, 32.4, 33.6, 34.8, 36.0, 37.2]],
  [-0.3, [19.2, 21.0, 22.2, 23.4, 24.6, 25.8, 27.0, 28.2, 29.4, 30.6, 31.8, 33.0, 34.2, 35.4, 36.6, 37.8, 39.0, 40.3]],
  [-0.2, [25.6, 27.2, 28.6, 29.8, 31.0, 32.2, 33.4, 34.6, 35.8]],
  [-0.1, [19.8, 21.6, 23.0, 24.2, 25.4, 26.6, 27.8, 29.0, 30.2, 31.4, 32.6, 33.8, 35.0, 36.2, 37.4, 38.6, 39.8]],
  [0.1, [20.5, 22.4, 24.0, 25.2, 26.8, 28.6, 29.8, 31.0, 32.2, 33.4, 34.6, 35.8, 37.0, 38.2, 39.4, 40.6]],
  [0.3, [24.0, 26.2, 28.0, 30.0, 31.4, 33.0, 34.2, 35.6, 36.8, 38.0, 39.2, 40.4, 41.6]],
  [0.5, [29.0, 31.5, 34.0, 35.6, 37.2, 38.4, 39.6, 40.8, 42.0]],
  [0.7, [35.2, 37.6, 38.8, 40.0, 41.2]],
  [0.9, [35.6, 39.0, 40.2, 41.6]],
];

// ---- Employees with no qualification ----
const noQualTicks = [5, 10, 15, 20];
const noQualFit: Pt[] = [[4.61, -0.49], [20.22, 0.55]];
const noQualOuter: Pt[] = [
  [4.61, -1.56], [4.83, -1.18], [4.99, -1.03], [5.0, -1.47], [5.74, 1.11], [5.81, 0.8], [5.87, 0.67], [5.94, 0.5],
  [6.0, 0.21], [6.13, 0.09], [6.06, -1.64], [6.45, 1.34], [6.49, 0.54], [6.55, 0.13], [6.65, -0.6], [6.72, -0.66],
  [6.58, -1.53], [6.84, -1.38], [6.78, -0.95], [6.9, -1.05], [7.08, 1.39], [7.1, 0.69], [7.17, 0.21], [7.26, -0.72],
  [7.3, -1.12], [7.19, -1.41], [7.4, 0.99], [7.36, 0.61], [7.43, -0.37], [7.69, 0.67], [7.71, -1.29], [7.3, -0.6],
  [8.08, -0.61], [8.17, 1.88], [8.34, -0.55], [8.79, -0.51], [8.83, 3.27], [9.12, -0.89], [9.27, 0.38], [9.27, -0.59],
  [9.44, 1.88], [9.53, 1.64], [9.53, 0.27], [9.53, -0.97], [9.7, 0.32], [9.74, -1.35], [9.79, -0.37], [9.99, -0.72],
  [10.09, -0.95], [10.16, -0.22], [10.29, 2.15], [10.31, -0.95], [10.45, 0.84], [10.48, 2.64], [10.68, 1.31], [10.78, 1.62],
  [10.87, 3.42], [10.94, 1.63], [11.06, 0.79], [11.09, 1.04], [11.3, 1.63], [11.39, 0.9], [11.42, 2.46], [11.65, 2.23],
  [11.65, 1.94], [11.61, 2.87], [11.84, 2.81], [11.87, 2.61], [11.65, 1.41], [11.84, 1.36], [12.1, 1.6], [12.49, 3.0],
  [12.47, 2.73], [12.65, 1.94], [12.69, 1.45], [12.78, 1.69], [12.99, 2.02], [13.21, 2.54], [13.75, 2.73], [13.86, 1.34],
  [14.05, 1.04], [14.25, 1.05], [14.44, 0.9], [14.99, 1.11], [15.22, 0.99], [15.55, 0.38], [15.68, 0.13], [15.94, 0.38],
  [16.1, 0.58], [15.97, 1.36], [16.0, 1.28], [15.74, -0.89], [15.94, -0.92], [16.1, -0.34], [15.9, -0.4], [16.3, 0.03],
  [16.49, -0.2], [17.04, 0.07], [17.1, -0.31], [17.1, -0.69], [17.58, 0.03], [17.69, -0.68], [17.82, -0.75], [19.16, 0.61],
  [20.22, 0.06], [15.4, -0.5], [15.6, -0.2],
];
const noQualCore: Row[] = [
  [-1.4, [5.2, 5.5, 5.9]],
  [-1.2, [5.1, 5.4, 5.7, 6.0, 6.3]],
  [-1.0, [5.3, 5.6, 5.9, 6.2, 6.5, 6.8]],
  [-0.8, [5.6, 5.9, 6.2, 6.5]],
  [-0.65, [5.8, 6.1]],
  [-1.2, [11.5, 12.3, 13.4]],
  [-1.0, [10.9, 11.2, 11.8, 12.1, 12.7, 13.0, 13.3, 13.9, 14.5]],
  [-0.9, [10.75, 11.05, 11.35, 11.65, 11.95, 12.25, 12.55, 12.85, 13.15, 13.45, 13.75, 14.05, 14.35]],
  [-0.8, [10.6, 10.9, 11.2, 11.5, 11.8, 12.1, 12.4, 12.7, 13.0, 13.3, 13.6, 13.9, 14.2, 14.5, 14.8]],
  [-0.7, [10.65, 10.95, 11.25, 11.55, 11.85, 12.15, 12.45, 12.75, 13.05, 13.35, 13.65, 13.95, 14.25, 14.55, 14.85]],
  [-0.6, [10.5, 10.8, 11.1, 11.4, 11.7, 12.0, 12.3, 12.6, 12.9, 13.2, 13.5, 13.8, 14.1, 14.4, 14.7, 15.0]],
  [-0.5, [10.55, 10.85, 11.15, 11.45, 11.75, 12.05, 12.35, 12.65, 12.95, 13.25, 13.55, 13.85, 14.15, 14.45, 14.75, 15.05]],
  [-0.4, [10.4, 10.7, 11.0, 11.3, 11.6, 11.9, 12.2, 12.5, 12.8, 13.1, 13.4, 13.7, 14.0, 14.3, 14.6, 14.9, 15.2]],
  [-0.3, [10.75, 11.05, 11.35, 11.65, 11.95, 12.25, 12.55, 12.85, 13.15, 13.45, 13.75, 14.05, 14.35, 14.65, 14.95]],
  [-0.2, [10.6, 10.9, 11.2, 11.5, 11.8, 12.1, 12.4, 12.7, 13.0, 13.3, 13.6, 13.9, 14.2, 14.5, 14.8, 15.1]],
  [-0.1, [10.95, 11.25, 11.55, 11.85, 12.15, 12.45, 12.75, 13.05, 13.35, 13.65, 13.95, 14.25, 14.55, 14.85]],
  [0.0, [10.8, 11.1, 11.4, 11.7, 12.0, 12.3, 12.6, 12.9, 13.2, 13.5, 13.8, 14.1, 14.4, 14.7, 15.0]],
  [0.1, [11.25, 11.7, 12.05, 12.35, 12.65, 12.95, 13.25, 13.55, 13.85, 14.15, 14.45, 14.75]],
  [0.2, [11.0, 11.5, 11.9, 12.2, 12.5, 12.8, 13.1, 13.4, 13.7, 14.0, 14.3, 14.6, 14.9]],
  [0.3, [12.0, 12.4, 12.75, 13.05, 13.35, 13.65, 13.95, 14.3, 14.7]],
  [0.4, [11.8, 12.2, 12.6, 12.9, 13.2, 13.5, 13.8, 14.1, 14.5, 14.9]],
  [0.5, [12.5, 12.85, 13.15, 13.45, 13.8]],
  [0.6, [12.3, 12.7, 13.0, 13.3, 13.6, 14.0, 14.6]],
  [0.8, [12.8, 13.1, 13.5, 13.9]],
  [1.0, [13.0, 13.4, 13.8]],
  [1.2, [13.2, 13.6]],
  [1.4, [13.4]],
];

// ---- look ----
const FONT = "'Liberation Serif', 'Times New Roman', serif";
const NAVY = "#263a6a";
const RED = "#e8201a";
const AXIS = "#8a8a8a";
const GRID = "#9c9c9c";
const DOT_R = 4.1;

const CHART_W = 510;
const CHART_H = 288;
const PLOT_W = 428;
const Y_DOMAIN: [number, number] = [-2.555, 4.416];
const Y_TICKS = [-2, 0, 2, 4];
const GRID_BOTTOM = -2.277;
const COL_LEFT = [0, 527.3, 1054.7];
const ROW_TOP = [0, 346.2, 692.7];

const fromRows = (rows: Row[]): Pt[] => rows.flatMap(([y, xs]) => xs.map((x) => [x, y] as Pt));
const toObjects = (pts: Pt[]) => pts.map(([x, y]) => ({ x, y }));
const fmtTick = (v: number) => (v < 0 ? `\u2212${-v}` : String(v).replace(/^0\./, "."));

interface PanelSpec {
  title: string;
  ticks: number[];
  points: Pt[];
  fit: Pt[];
  col: number;
  row: number;
  gap: number; // px from plot left to first tick
  span: number; // px from first to last tick
}

const panels: PanelSpec[] = [
  { title: "Gross value added", ticks: gvaTicks, points: [...fromRows(gvaCore), ...gvaOuter], fit: gvaFit, col: 0, row: 0, gap: 28.7, span: 387.6 },
  { title: "Share of large companies", ticks: shareTicks, points: [...fromRows(shareCore), ...shareOuter], fit: shareFit, col: 1, row: 0, gap: 15.7, span: 400.7 },
  { title: "New companies per capita", ticks: newCoTicks, points: [...fromRows(newCoCore), ...newCoOuter], fit: newCoFit, col: 2, row: 0, gap: 16, span: 400.6 },
  { title: "Unemployment rate", ticks: unempTicks, points: [...fromRows(unempCore), ...unempOuter], fit: unempFit, col: 0, row: 1, gap: 15.7, span: 400.6 },
  { title: "Population density", ticks: densityTicks, points: [...fromRows(densityCore), ...densityOuter], fit: densityFit, col: 1, row: 1, gap: 15.7, span: 400.7 },
  { title: "Automation risk of occupations", ticks: autoTicks, points: [...fromRows(autoCore), ...autoOuter], fit: autoFit, col: 2, row: 1, gap: 16, span: 400.6 },
  { title: "Academic employees", ticks: academicTicks, points: [...fromRows(academicCore), ...academicOuter], fit: academicFit, col: 0, row: 2, gap: 53.7, span: 362.6 },
  { title: "School\u2212leavers with higher sec. degree", ticks: schoolTicks, points: [...fromRows(schoolCore), ...schoolOuter], fit: schoolFit, col: 1, row: 2, gap: 15.7, span: 400.7 },
  { title: "Employees with no qualification", ticks: noQualTicks, points: [...fromRows(noQualCore), ...noQualOuter], fit: noQualFit, col: 2, row: 2, gap: 26, span: 385.6 },
];

const Dot = (props: any) => <circle cx={props.cx} cy={props.cy} r={DOT_R} fill={NAVY} />;
const NoDot = () => <g />;

function Panel({ spec }: { spec: PanelSpec }) {
  const { ticks, gap, span } = spec;
  const v0 = ticks[0];
  const v1 = ticks[ticks.length - 1];
  const perPx = (v1 - v0) / span;
  const xDomain: [number, number] = [v0 - gap * perPx, v1 + (PLOT_W - gap - span) * perPx];
  const tickStyle = { fontSize: 19.5, fill: "#000", fontFamily: FONT };

  return (
    <div style={{ position: "absolute", left: COL_LEFT[spec.col], top: ROW_TOP[spec.row] }}>
      <ScatterChart width={CHART_W} height={CHART_H} margin={{ top: 7, right: CHART_W - 2 - 40 - PLOT_W, bottom: 0, left: 2 }}>
        <CartesianGrid vertical={false} stroke={GRID} strokeWidth={1.3} strokeDasharray="1.5 7" />
        <XAxis
          type="number"
          dataKey="x"
          domain={xDomain}
          allowDataOverflow
          ticks={ticks}
          interval={0}
          tickFormatter={fmtTick}
          axisLine={false}
          tickLine={{ stroke: AXIS, strokeWidth: 1.8 }}
          tickSize={7}
          tickMargin={8}
          height={80}
          tick={tickStyle}
          label={{ value: spec.title, position: "insideBottom", offset: 12, fill: "#000", fontSize: 30, fontFamily: FONT }}
        />
        <YAxis
          type="number"
          dataKey="y"
          domain={Y_DOMAIN}
          allowDataOverflow
          ticks={Y_TICKS}
          interval={0}
          tickFormatter={fmtTick}
          axisLine={false}
          tickLine={{ stroke: AXIS, strokeWidth: 1.8 }}
          tickSize={7}
          tickMargin={9}
          width={40}
          tick={tickStyle}
        />
        {ticks.map((t) => (
          <ReferenceLine
            key={t}
            segment={[{ x: t, y: GRID_BOTTOM }, { x: t, y: Y_DOMAIN[1] }]}
            stroke={GRID}
            strokeWidth={1.3}
            strokeDasharray="1.5 7"
            ifOverflow="visible"
          />
        ))}
        <ReferenceLine segment={[{ x: xDomain[0], y: -2 }, { x: xDomain[0], y: 4 }]} stroke={AXIS} strokeWidth={1.8} ifOverflow="visible" />
        <ReferenceLine segment={[{ x: v0, y: Y_DOMAIN[0] }, { x: v1, y: Y_DOMAIN[0] }]} stroke={AXIS} strokeWidth={1.8} ifOverflow="visible" />
        <Scatter data={toObjects(spec.fit)} line={{ stroke: RED, strokeWidth: 2 }} lineType="joint" shape={NoDot} isAnimationActive={false} />
        <Scatter data={toObjects(spec.points)} shape={Dot} isAnimationActive={false} />
      </ScatterChart>
    </div>
  );
}

export default function App() {
  return (
    <div style={{ position: "absolute", left: 0, top: 0, width: 1535, height: 981, overflow: "hidden", background: "#fff" }}>
      {panels.map((p) => (
        <Panel key={p.title} spec={p} />
      ))}
    </div>
  );
}
